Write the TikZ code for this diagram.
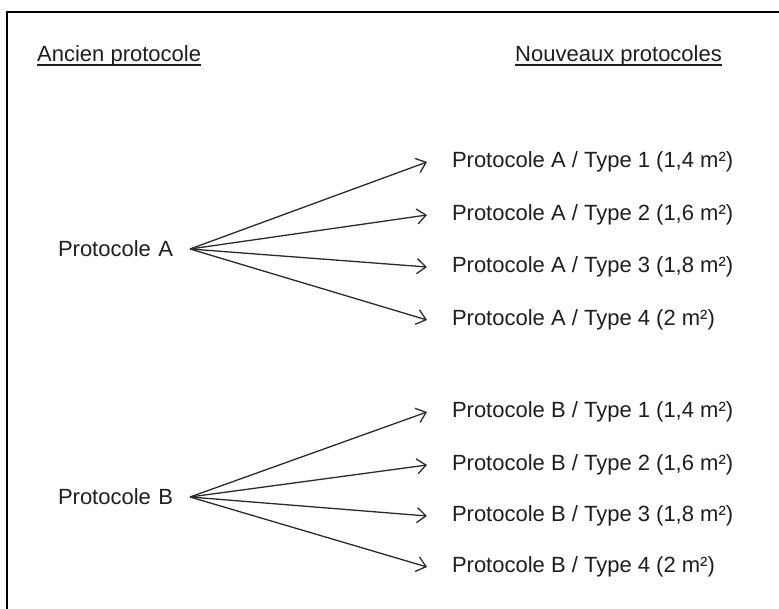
\documentclass[tikz,border=0pt]{standalone}
\usepackage{fontspec}
\setmainfont{Liberation Sans}
\usetikzlibrary{arrows.meta}
\definecolor{ink}{HTML}{1E1E1E}
\definecolor{wire}{HTML}{2A2A2A}
\tikzset{
  lbl/.style={anchor=west, inner xsep=0pt, inner ysep=0pt, outer xsep=0pt, outer ysep=0pt, text=ink, font=\fontsize{22pt}{26pt}\selectfont},
  src/.style={lbl, text width=132pt, align=left},
  dst/.style={lbl, outer xsep=25pt},
  head/.style={anchor=base west, inner sep=0pt, text=ink, font=\fontsize{22pt}{26pt}\selectfont},
  uline/.style={draw=ink, line width=1.1pt},
  arr/.style={draw=wire, line width=1.3pt, -{Straight Barb[length=9pt,width=15pt]}},
  frame/.style={draw=black, line width=1.6pt}
}
\begin{document}
\begin{tikzpicture}[x=1pt,y=-1pt]
\useasboundingbox (0,0) rectangle (779,609);
\draw[frame] (7,609) -- (7,12) -- (779,12);

\node[head] (h1) at (37,62) {Ancien protocole};
\node[head] (h2) at (515,62) {Nouveaux protocoles};
\draw[uline] ([yshift=-3pt]h1.base west) -- ([yshift=-3pt]h1.base east);
\draw[uline] ([yshift=-3pt]h2.base west) -- ([yshift=-3pt]h2.base east);

\node[src] (A) at (58,249) {Protocole A};
\node[src] (B) at (58,497) {Protocole B};

\node[dst] (a1) at (427,162) {Protocole A / Type 1 (1,4 m²)};
\node[dst] (a2) at (427,215) {Protocole A / Type 2 (1,6 m²)};
\node[dst] (a3) at (427,267) {Protocole A / Type 3 (1,8 m²)};
\node[dst] (a4) at (427,320) {Protocole A / Type 4 (2 m²)};
\node[dst] (b1) at (427,412) {Protocole B / Type 1 (1,4 m²)};
\node[dst] (b2) at (427,465) {Protocole B / Type 2 (1,6 m²)};
\node[dst] (b3) at (427,516) {Protocole B / Type 3 (1,8 m²)};
\node[dst] (b4) at (427,567) {Protocole B / Type 4 (2 m²)};

\foreach \t in {a1,a2,a3,a4}{\draw[arr] (A.east) -- (\t.west);}
\foreach \t in {b1,b2,b3,b4}{\draw[arr] (B.east) -- (\t.west);}
\end{tikzpicture}
\end{document}
